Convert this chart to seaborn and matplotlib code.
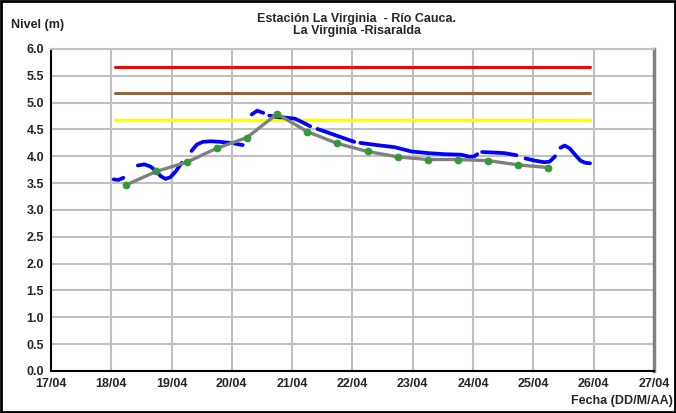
import numpy as np
import pandas as pd
import matplotlib
matplotlib.use('Agg')
import matplotlib.pyplot as plt
import seaborn as sns

# Datos (dia de abril fraccional, nivel en m)
dias_prom = [18.25, 18.75, 19.25, 19.75, 20.25, 20.75, 21.25, 21.75,
             22.25, 22.75, 23.25, 23.75, 24.25, 24.75, 25.25]
nivel_prom = [3.47, 3.72, 3.89, 4.15, 4.35, 4.79, 4.46, 4.24,
              4.09, 3.99, 3.94, 3.94, 3.92, 3.84, 3.79]

# serie horaria (azul), tramos separados por datos faltantes
tramos_azul = [
    ([18.04, 18.12, 18.20], [3.57, 3.56, 3.60]),
    ([18.44, 18.55, 18.65, 18.75, 18.82, 18.90, 18.98, 19.07, 19.17],
     [3.83, 3.85, 3.81, 3.72, 3.63, 3.58, 3.61, 3.72, 3.88]),
    ([19.33, 19.42, 19.52, 19.65, 19.80, 19.97],
     [4.10, 4.22, 4.27, 4.28, 4.27, 4.25]),
    ([20.04, 20.12, 20.18], [4.24, 4.22, 4.21]),
    ([20.33, 20.42, 20.52], [4.78, 4.85, 4.81]),
    ([20.62, 20.75, 20.90, 21.05, 21.18, 21.30],
     [4.76, 4.73, 4.72, 4.70, 4.63, 4.56]),
    ([21.42, 21.60, 21.80, 22.03], [4.51, 4.44, 4.36, 4.27]),
    ([22.13, 22.40, 22.70, 22.98, 23.25, 23.52, 23.80, 23.95, 24.02, 24.07],
     [4.25, 4.21, 4.17, 4.09, 4.06, 4.04, 4.03, 3.99, 4.00, 4.04]),
    ([24.15, 24.35, 24.52, 24.72], [4.08, 4.07, 4.06, 4.02]),
    ([24.87, 25.02, 25.18, 25.27, 25.36], [3.96, 3.92, 3.89, 3.90, 4.00]),
    ([25.45, 25.52, 25.60, 25.70, 25.78, 25.86, 25.94],
     [4.16, 4.20, 4.15, 4.02, 3.92, 3.88, 3.87]),
]

# niveles de alerta
alertas = [5.67, 5.18, 4.68]
colores_alerta = ['#FF0000', '#996633', '#FFFF00']
alerta_ini, alerta_fin = 18.06, 25.94

dias_ticks = list(range(17, 28))
etiquetas_x = ['%02d/04' % d for d in dias_ticks]

# DataFrames
df_prom = pd.DataFrame({'dia': dias_prom, 'nivel': nivel_prom})
filas = []
for i, (xs, ys) in enumerate(tramos_azul):
    for x, y in zip(xs, ys):
        filas.append({'dia': x, 'nivel': y, 'tramo': i})
df_azul = pd.DataFrame(filas)

sns.set_style('white')
plt.rcParams['font.family'] = ['Liberation Sans', 'DejaVu Sans']
plt.rcParams['font.weight'] = 'bold'

fig = plt.figure(figsize=(6.76, 4.13), dpi=100)
ax = fig.add_axes([0.0754, 0.1017, 0.892, 0.7797])

# rejilla
for d in dias_ticks[1:-1]:
    ax.axvline(d, color='#C0C0C0', lw=1.5, zorder=0)
for v in np.arange(0.5, 6.01, 0.5):
    ax.axhline(v, color='#C0C0C0', lw=1.5, zorder=0)

for nivel, col in zip(alertas, colores_alerta):
    ax.plot([alerta_ini, alerta_fin], [nivel, nivel], color=col, lw=2.2, zorder=2)

sns.lineplot(data=df_azul, x='dia', y='nivel', units='tramo', estimator=None,
             color='#0000FF', lw=2.7, ax=ax, zorder=3)
sns.lineplot(data=df_prom, x='dia', y='nivel', color='#808080', lw=2.4, ax=ax,
             marker='o', markersize=4.8, markerfacecolor='#339933',
             markeredgecolor='#339933', zorder=4)

ax.set_xlim(17, 27)
ax.set_ylim(0, 6)
ax.set_xticks(dias_ticks)
ax.set_xticklabels(etiquetas_x, fontsize=9, fontweight='bold')
ax.set_yticks(np.arange(0, 6.01, 0.5))
ax.set_yticklabels(['%.1f' % v for v in np.arange(0, 6.01, 0.5)],
                   fontsize=9, fontweight='bold')
ax.tick_params(axis='both', direction='inout', length=6, width=1, color='black', pad=2)
ax.set_xlabel('')
ax.set_ylabel('')

for s in ['left', 'bottom']:
    ax.spines[s].set_color('black')
    ax.spines[s].set_linewidth(1.5)
ax.spines['right'].set_color('#808080')
ax.spines['right'].set_linewidth(2.5)
ax.spines['top'].set_color('#C0C0C0')
ax.spines['top'].set_linewidth(1.5)

fig.text(0.528, 0.968, 'Estación La Virginia  - Río Cauca.\nLa Virginia -Risaralda',
         ha='center', va='top', fontsize=9, fontweight='bold', linespacing=1.0)
fig.text(0.016, 0.94, 'Nivel (m)', ha='left', va='center', fontsize=9, fontweight='bold')
fig.text(0.995, 0.03, 'Fecha (DD/M/AA)', ha='right', va='center', fontsize=9,
         fontweight='bold')

# marco exterior
fig.patches.append(plt.Rectangle((0.002, 0.003), 0.996, 0.994, transform=fig.transFigure,
                                 fill=False, edgecolor='black', lw=2))

fig.savefig('out.png', dpi=100)
